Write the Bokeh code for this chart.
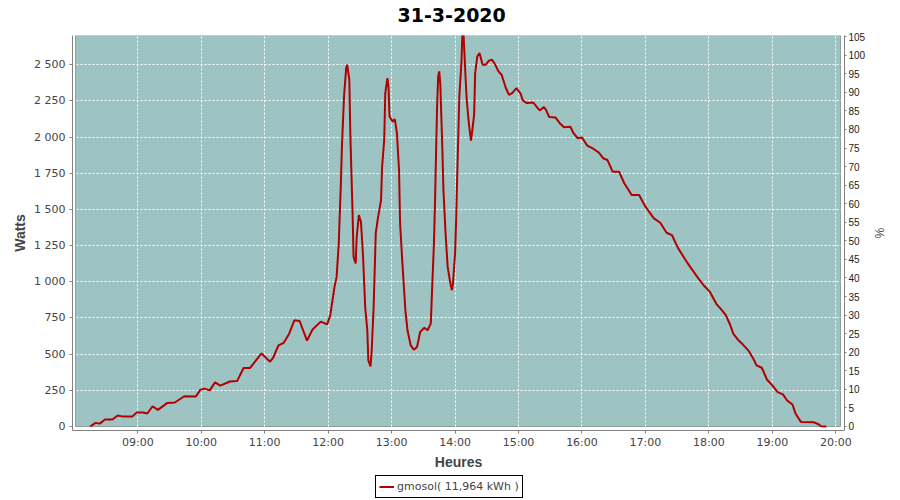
import pandas as pd
from bokeh.plotting import figure
from bokeh.layouts import column
from bokeh.models import (ColumnDataSource, Range1d, LinearAxis, FixedTicker, Label,
                          DatetimeTickFormatter, BoxAnnotation, Legend, LegendItem)
from bokeh.embed import file_html
from bokeh.resources import INLINE

jour = "2020-03-31"
titre = "31-3-2020"
serie = "gmosol( 11,964 kWh )"

heures = ["08:15", "08:20", "08:24", "08:29", "08:36", "08:41", "08:45", "08:55", "08:59", "09:05",
          "09:09", "09:14", "09:19", "09:28", "09:35", "09:44", "09:55", "09:59", "10:03", "10:08",
          "10:13", "10:18", "10:27", "10:34", "10:40", "10:46", "10:57", "11:05", "11:08", "11:13",
          "11:18", "11:23", "11:28", "11:33", "11:40", "11:45", "11:53", "11:59", "12:02", "12:06",
          "12:08", "12:10", "12:12", "12:13", "12:15", "12:17", "12:18", "12:20", "12:21", "12:23",
          "12:24", "12:26", "12:27", "12:29", "12:31", "12:33", "12:35", "12:37", "12:38", "12:40",
          "12:41", "12:43", "12:45", "12:47", "12:50", "12:51", "12:53", "12:54", "12:56", "12:57",
          "12:58", "13:01", "13:03", "13:05", "13:07", "13:08", "13:10", "13:13", "13:15", "13:18",
          "13:21", "13:24", "13:27", "13:31", "13:34", "13:37", "13:38", "13:40", "13:41", "13:42",
          "13:43", "13:44", "13:45", "13:46", "13:48", "13:49", "13:51", "13:53", "13:55", "13:57",
          "13:58", "14:00", "14:01", "14:02", "14:03", "14:04", "14:06", "14:07", "14:08", "14:10",
          "14:11", "14:13", "14:15", "14:16", "14:18", "14:19", "14:21", "14:23", "14:24", "14:26",
          "14:29", "14:32", "14:35", "14:38", "14:41", "14:44", "14:48", "14:51", "14:54", "14:58",
          "15:02", "15:04", "15:08", "15:14", "15:17", "15:20", "15:24", "15:26", "15:29", "15:35",
          "15:39", "15:43", "15:49", "15:52", "15:56", "16:00", "16:05", "16:11", "16:16", "16:20",
          "16:24", "16:29", "16:35", "16:40", "16:47", "16:54", "17:00", "17:08", "17:14", "17:20",
          "17:25", "17:31", "17:40", "17:49", "17:55", "18:01", "18:07", "18:11", "18:16", "18:20",
          "18:23", "18:28", "18:32", "18:38", "18:42", "18:45", "18:50", "18:55", "19:00", "19:05",
          "19:10", "19:14", "19:19", "19:22", "19:27", "19:39", "19:44", "19:46", "19:51"]

watts = [0, 25, 20, 48, 48, 76, 70, 70, 97, 97,
         90, 140, 115, 163, 166, 209, 208, 253, 262, 250,
         305, 283, 311, 315, 404, 404, 505, 448, 475, 560,
         578, 640, 734, 729, 594, 668, 725, 706, 769, 965,
         1034, 1265, 1680, 1934, 2280, 2477, 2500, 2396, 2003, 1496,
         1173, 1127, 1311, 1461, 1415, 1173, 826, 665, 457, 415,
         503, 826, 1334, 1438, 1565, 1796, 1981, 2304, 2408, 2350,
         2142, 2107, 2124, 2027, 1773, 1404, 1150, 803, 665, 561,
         531, 549, 653, 683, 665, 711, 895, 1265, 1542, 1888,
         2211, 2419, 2454, 2373, 1911, 1634, 1334, 1103, 1011, 942,
         988, 1196, 1427, 1727, 2003, 2280, 2512, 2730, 2710, 2396,
         2258, 2096, 1975, 2027, 2154, 2442, 2557, 2581, 2557, 2500,
         2500, 2528, 2535, 2500, 2454, 2431, 2339, 2292, 2304, 2339,
         2300, 2253, 2235, 2239, 2211, 2184, 2207, 2188, 2138, 2135,
         2096, 2068, 2071, 2027, 1992, 1997, 1941, 1918, 1893, 1854,
         1842, 1761, 1761, 1681, 1600, 1600, 1519, 1438, 1408, 1339,
         1323, 1231, 1127, 1034, 976, 930, 848, 815, 769, 705,
         642, 596, 568, 519, 469, 422, 406, 323, 284, 238,
         222, 180, 152, 88, 32, 30, 14, 2, 0]

heures_ticks = ["09:00", "10:00", "11:00", "12:00", "13:00", "14:00", "15:00",
                "16:00", "17:00", "18:00", "19:00", "20:00"]
watts_ticks = [0, 250, 500, 750, 1000, 1250, 1500, 1750, 2000, 2250, 2500]
pct_ticks = list(range(0, 106, 5))

# plot area (teal) and axis-line box
zone_debut, zone_fin = "08:01:05", "20:04:26"
cadre_debut, cadre_fin = "07:58:15", "20:08:13"
w_max, w_min_cadre = 2702, -27.6
pct_max, pct_min_cadre = 105.3, -1.08

COULEUR = "#B00000"


def ms(h):
    return pd.Timestamp(f"{jour} {h}").value / 1e6


src = ColumnDataSource(dict(t=pd.to_datetime([f"{jour} {h}" for h in heures]), w=watts))

# title strip
p0 = figure(width=900, height=28, x_range=Range1d(0, 772), y_range=Range1d(0, 28),
            x_axis_location=None, y_axis_location=None, title=None,
            output_backend="svg", toolbar_location=None,
            min_border_left=0, min_border_right=0, min_border_top=0, min_border_bottom=0,
            background_fill_color="white", border_fill_color="white", outline_line_color=None)
p0.xgrid.visible = False
p0.ygrid.visible = False
p0.add_layout(Label(x=325, y=14, text=titre, text_font="DejaVu Sans", text_font_size="19px",
                    text_font_style="bold", text_color="black",
                    text_align="left", text_baseline="alphabetic"))

p = figure(frame_width=772, frame_height=395, x_axis_type="datetime",
           x_range=Range1d(ms(cadre_debut), ms(cadre_fin)),
           y_range=Range1d(w_min_cadre, w_max),
           output_backend="svg", toolbar_location=None,
           min_border_left=72, min_border_top=7, min_border_right=56, min_border_bottom=42,
           background_fill_color="white", border_fill_color="white", outline_line_color=None)
p.extra_y_ranges = {"pct": Range1d(pct_min_cadre, pct_max)}

zone = BoxAnnotation(left=ms(zone_debut), right=ms(zone_fin), bottom=0, top=w_max,
                     fill_color="#9EC3C3", fill_alpha=1.0, line_color="black", line_width=1,
                     level="image")
p.add_layout(zone)

r = p.line("t", "w", source=src, line_color=COULEUR, line_width=2)

# x axis
xa = p.xaxis[0]
xa.ticker = FixedTicker(ticks=[ms(h) for h in heures_ticks])
fmt = "%H:%M"
xa.formatter = DatetimeTickFormatter(hours=fmt, hourmin=fmt, minutes=fmt, minsec=fmt,
                                     days=fmt, seconds=fmt, milliseconds=fmt)
xa.axis_label = "Heures"

ya = p.yaxis[0]
ya.ticker = FixedTicker(ticks=watts_ticks)
ya.major_label_overrides = {v: f"{v:,}".replace(",", " ") for v in watts_ticks}
ya.axis_label = "Watts"

for ax in (xa, ya):
    ax.axis_line_color = "#808080"
    ax.major_tick_line_color = "#808080"
    ax.major_tick_out = 3
    ax.major_tick_in = 0
    ax.minor_tick_line_color = None
    ax.major_label_text_font = "DejaVu Sans"
    ax.major_label_text_font_size = "11px"
    ax.major_label_text_color = "#444444"
    ax.axis_label_text_font = "Liberation Sans"
    ax.axis_label_text_font_size = "14px"
    ax.axis_label_text_font_style = "bold"
    ax.axis_label_text_color = "#444444"
xa.major_label_standoff = 2
xa.axis_label_standoff = 2
ya.major_label_standoff = 4
ya.axis_label_standoff = 3

ra = LinearAxis(y_range_name="pct", ticker=FixedTicker(ticks=pct_ticks), axis_label="%")
ra.axis_line_color = "#808080"
ra.major_tick_line_color = "#808080"
ra.major_tick_out = 2
ra.major_tick_in = 0
ra.minor_tick_line_color = None
ra.major_label_standoff = 2
ra.major_label_text_font = "Liberation Sans"
ra.major_label_text_font_size = "10px"
ra.major_label_text_color = "#222222"
ra.axis_label_text_font = "Liberation Sans"
ra.axis_label_text_font_size = "12px"
ra.axis_label_text_font_style = "normal"
ra.axis_label_text_color = "#444444"
ra.axis_label_standoff = 4
p.add_layout(ra, "right")

# grid
p.xgrid.grid_line_color = "white"
p.xgrid.grid_line_dash = "2 2"
p.xgrid.grid_line_width = 1
p.ygrid.ticker = FixedTicker(ticks=watts_ticks[1:])
p.ygrid.grid_line_color = "white"
p.ygrid.grid_line_dash = "2 2"
p.ygrid.grid_line_width = 1

# legend strip under the chart
p2 = figure(width=900, height=28, x_range=Range1d(0, 1), y_range=Range1d(0, 1),
            x_axis_location=None, y_axis_location=None, title=None,
            output_backend="svg", toolbar_location=None,
            min_border_left=0, min_border_right=0, min_border_top=0, min_border_bottom=0,
            background_fill_color="white", border_fill_color="white", outline_line_color=None)
p2.xgrid.visible = False
p2.ygrid.visible = False
r2 = p2.line("t", "w", source=src, line_color=COULEUR, line_width=2)

legend = Legend(items=[LegendItem(label=serie, renderers=[r2])],
                location=(303, 2), orientation="vertical",
                border_line_color="black", border_line_width=1, border_line_alpha=1,
                padding=3, margin=0, spacing=0, glyph_width=15, glyph_height=15,
                label_height=15, label_standoff=3,
                label_text_font="DejaVu Sans", label_text_font_size="11px",
                label_text_color="#444444", background_fill_color="white",
                background_fill_alpha=1)
p2.add_layout(legend, "center")

open("out.html", "w").write(file_html(column(p0, p, p2, spacing=0), INLINE))
